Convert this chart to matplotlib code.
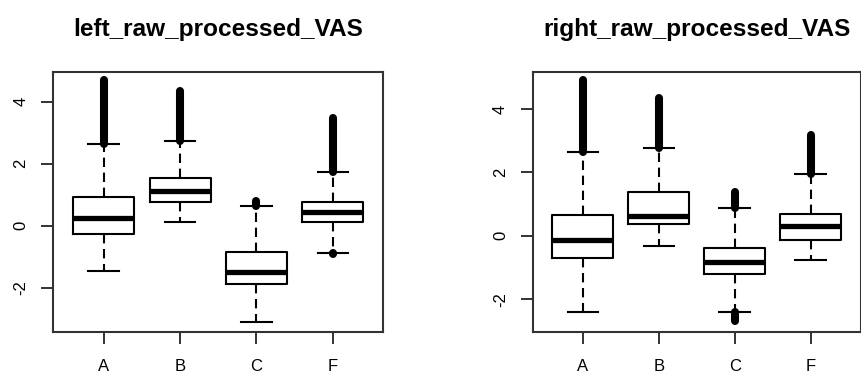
import matplotlib
matplotlib.use("Agg")
import matplotlib.pyplot as plt

plt.rcParams['font.family'] = ['Liberation Sans', 'DejaVu Sans']

groups = ["A", "B", "C", "F"]

# five-number summaries per group (whisker low, Q1, median, Q3, whisker high)
left_whislo = [-1.47, 0.12, -3.10, -0.89]
left_q1 = [-0.26, 0.76, -1.89, 0.12]
left_med = [0.26, 1.11, -1.48, 0.45]
left_q3 = [0.92, 1.55, -0.84, 0.77]
left_whishi = [2.63, 2.72, 0.65, 1.74]
# most extreme outliers above / below the whiskers (None = no outliers)
left_out_hi = [4.70, 4.35, 0.81, 3.46]
left_out_lo = [None, None, None, -0.92]

right_whislo = [-2.40, -0.32, -2.40, -0.77]
right_q1 = [-0.71, 0.37, -1.20, -0.14]
right_med = [-0.14, 0.63, -0.82, 0.32]
right_q3 = [0.64, 1.39, -0.38, 0.69]
right_whishi = [2.65, 2.78, 0.89, 1.96]
right_out_hi = [4.92, 4.34, 1.37, 3.19]
right_out_lo = [None, None, -2.69, None]

yticks = [-2, 0, 2, 4]

EDGE = "#333333"


def draw_panel(ax, title, whislo, q1, med, q3, whishi, out_hi, out_lo, ylim):
    stats = []
    for i, g in enumerate(groups):
        stats.append({"label": g, "whislo": whislo[i], "q1": q1[i], "med": med[i],
                      "q3": q3[i], "whishi": whishi[i], "fliers": []})
    ax.bxp(stats, positions=[1, 2, 3, 4], widths=0.8, showfliers=False,
           boxprops=dict(color="black", linewidth=1.5),
           medianprops=dict(color="black", linewidth=3.8, solid_capstyle="butt"),
           whiskerprops=dict(color="black", linewidth=1.5, linestyle=(0, (4.5, 2.7))),
           capprops=dict(color="black", linewidth=1.5),
           capwidths=0.4)

    # outliers are so dense they merge into a solid column
    for i in range(len(groups)):
        if out_hi[i] is not None:
            lc = ax.vlines(i + 1, whishi[i], out_hi[i], color="black", linewidth=5.8)
            lc.set_capstyle("round")
        if out_lo[i] is not None:
            lc = ax.vlines(i + 1, out_lo[i], whislo[i], color="black", linewidth=5.8)
            lc.set_capstyle("round")

    ax.set_xlim(0.34, 4.66)
    ax.set_ylim(*ylim)
    ax.set_yticks(yticks)
    ax.set_yticklabels([str(t) for t in yticks], rotation=90, va="center")
    ax.set_xticks([1, 2, 3, 4])
    ax.set_xticklabels(groups)
    ax.tick_params(axis="both", length=8.8, width=1.4, color=EDGE, labelsize=12)
    ax.tick_params(axis="x", pad=11)
    ax.tick_params(axis="y", pad=9)
    for s in ax.spines.values():
        s.set_color(EDGE)
        s.set_linewidth(1.5)
    ax.set_title(title, fontsize=17.6, fontweight="bold", pad=26)


fig = plt.figure(figsize=(8.62, 3.78), dpi=100)
W, H = 862, 378
ax1 = fig.add_axes([53.3 / W, (H - 331.7) / H, 330 / W, 260 / H])
ax2 = fig.add_axes([532.7 / W, (H - 331.7) / H, 328 / W, 260 / H])

draw_panel(ax1, "left_raw_processed_VAS", left_whislo, left_q1, left_med, left_q3,
           left_whishi, left_out_hi, left_out_lo, (-3.42, 4.97))
draw_panel(ax2, "right_raw_processed_VAS", right_whislo, right_q1, right_med, right_q3,
           right_whishi, right_out_hi, right_out_lo, (-3.03, 5.18))

fig.savefig("out.png", dpi=100)
